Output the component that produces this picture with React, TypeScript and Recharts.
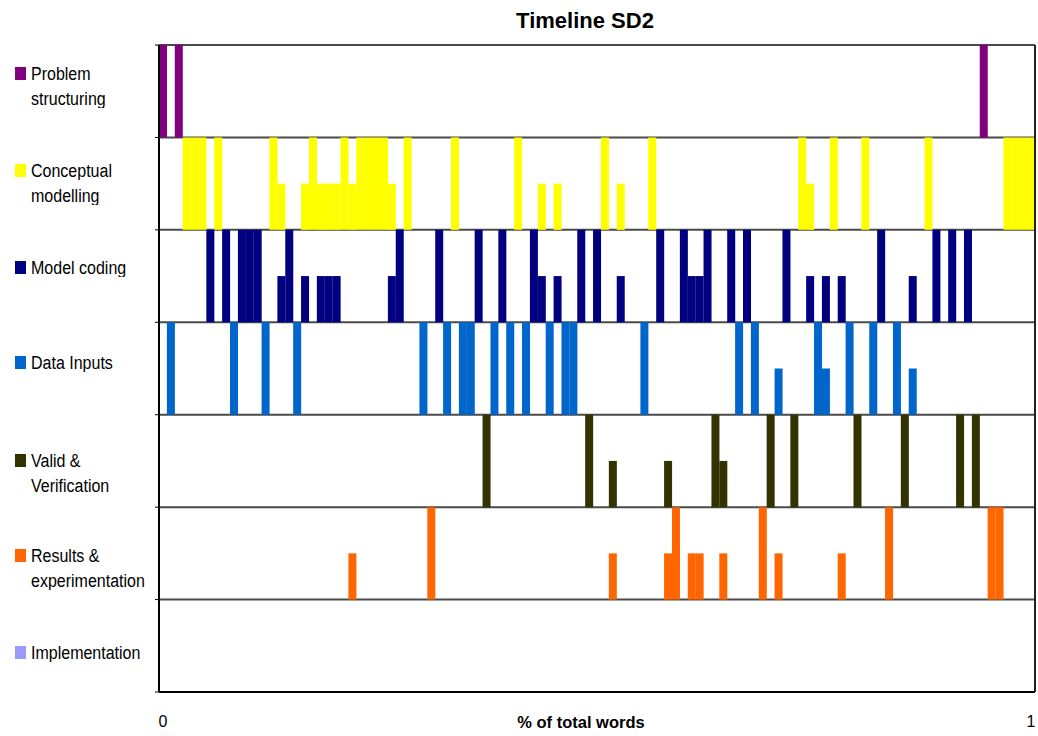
import React from 'react';
import { BarChart, Bar, XAxis, YAxis, CartesianGrid } from 'recharts';

// ---- data ----
const BIN_COUNT = 111; // time segments along "% of total words"

const categories = [
  'Problem structuring',
  'Conceptual modelling',
  'Model coding',
  'Data Inputs',
  'Valid & Verification',
  'Results & experimentation',
  'Implementation',
];
const legendLines = [
  ['Problem', 'structuring'],
  ['Conceptual', 'modelling'],
  ['Model coding'],
  ['Data Inputs'],
  ['Valid &', 'Verification'],
  ['Results &', 'experimentation'],
  ['Implementation'],
];
const colors = ['#800080', '#FFFF00', '#000080', '#0066CC', '#333300', '#FF6600', '#9999FF'];

// segment indices where an activity fills the whole segment (1) or shares it (0.5)
const problemFull = [0, 2, 104];
const problemHalf: number[] = [];
const conceptFull = [3, 4, 5, 7, 14, 19, 23, 25, 26, 27, 28, 31, 37, 45, 56, 62, 81, 85, 89, 97, 107, 108, 109, 110];
const conceptHalf = [15, 18, 20, 21, 22, 24, 29, 48, 50, 58, 82];
const modelFull = [6, 8, 10, 11, 12, 16, 30, 35, 40, 43, 47, 53, 55, 63, 66, 69, 72, 74, 79, 91, 98, 100, 102];
const modelHalf = [15, 18, 20, 21, 22, 29, 48, 50, 58, 67, 68, 82, 84, 86, 95];
const dataFull = [1, 9, 13, 17, 33, 36, 38, 39, 42, 44, 46, 49, 51, 52, 61, 73, 75, 83, 87, 90, 93];
const dataHalf = [78, 84, 95];
const validFull = [41, 54, 70, 77, 80, 88, 94, 101, 103];
const validHalf = [57, 64, 71];
const resultsFull = [34, 65, 76, 92, 105, 106];
const resultsHalf = [24, 57, 64, 67, 68, 71, 78, 86];
const implFull: number[] = [];
const implHalf: number[] = [];

// x ticks: first and last segment, labelled as share of total words
const xTickBins = [0, BIN_COUNT - 1];
const xTickLabels = ['0', '1'];
const rowTicks = [0, 1, 2, 3, 4, 5, 6, 7];

const fullLists = [problemFull, conceptFull, modelFull, dataFull, validFull, resultsFull, implFull];
const halfLists = [problemHalf, conceptHalf, modelHalf, dataHalf, validHalf, resultsHalf, implHalf];

const data = Array.from({ length: BIN_COUNT }, (_, bin) => {
  const row: Record<string, number> = { bin };
  categories.forEach((_, i) => {
    const v = fullLists[i].includes(bin) ? 1 : halfLists[i].includes(bin) ? 0.5 : 0;
    row['v' + i] = v;
    row['p' + i] = 1 - v;
  });
  return row;
});

// ---- layout ----
const legendCenters = [73, 170, 267, 362, 460, 555, 652];
const FONT = '"Liberation Sans", Arial, Helvetica, sans-serif';

export default function App() {
  const stackOrder = [6, 5, 4, 3, 2, 1, 0]; // bottom row first
  return (
    <div
      style={{
        position: 'absolute',
        left: 0,
        top: 0,
        width: 1038,
        height: 736,
        background: '#fff',
        fontFamily: FONT,
        color: '#000',
        overflow: 'hidden',
      }}
    >
      <BarChart
        width={1038}
        height={736}
        data={data}
        margin={{ top: 45, right: 0, bottom: 0, left: 151 }}
        barCategoryGap={0}
        barGap={0}
      >
        <CartesianGrid
          xAxisId="bins"
          yAxisId="rows"
          vertical={false}
          stroke="#4a4a4a"
          strokeWidth={2}
        />
        <XAxis
          xAxisId="bins"
          dataKey="bin"
          type="category"
          ticks={xTickBins}
          interval={0}
          height={44}
          axisLine={{ stroke: '#000', strokeWidth: 2 }}
          tickLine={false}
          tickMargin={18}
          tick={{ fill: '#000', fontSize: 16 }}
          tickFormatter={(v: number) => xTickLabels[xTickBins.indexOf(v)] ?? ''}
        />
        <YAxis
          yAxisId="rows"
          type="number"
          domain={[0, 7]}
          ticks={rowTicks}
          width={8}
          allowDataOverflow
          axisLine={{ stroke: '#000', strokeWidth: 2 }}
          tickLine={{ stroke: '#000' }}
          tickSize={4}
          tickFormatter={() => ''}
        />
        <YAxis
          yAxisId="right"
          orientation="right"
          type="number"
          domain={[0, 7]}
          ticks={rowTicks}
          width={3}
          allowDataOverflow
          axisLine={{ stroke: '#222', strokeWidth: 2 }}
          tickLine={false}
          tickFormatter={() => ''}
        />
        {stackOrder.flatMap((i) => [
          <Bar
            key={'v' + i}
            dataKey={'v' + i}
            name={categories[i]}
            xAxisId="bins"
            yAxisId="rows"
            stackId="s"
            fill={colors[i]}
            stroke="none"
            isAnimationActive={false}
          />,
          <Bar
            key={'p' + i}
            dataKey={'p' + i}
            xAxisId="bins"
            yAxisId="rows"
            stackId="s"
            fill="none"
            stroke="none"
            isAnimationActive={false}
          />,
        ])}
      </BarChart>

      {/* title */}
      <div
        style={{
          position: 'absolute',
          left: 385,
          width: 400,
          top: 7,
          textAlign: 'center',
          fontWeight: 'bold',
          fontSize: 22,
          lineHeight: '28px',
        }}
      >
        Timeline SD2
      </div>

      {/* x axis title */}
      <div
        style={{
          position: 'absolute',
          left: 431,
          width: 300,
          top: 711,
          textAlign: 'center',
          fontWeight: 'bold',
          fontSize: 16.5,
          lineHeight: '22px',
        }}
      >
        % of total words
      </div>

      {/* legend */}
      {categories.map((c, i) => (
        <div key={c} style={{ position: 'absolute', left: 0, top: legendCenters[i] - 12.5 }}>
          <div
            style={{
              position: 'absolute',
              left: 15,
              top: 6,
              width: 11,
              height: 13,
              background: colors[i],
            }}
          />
          <div style={{ position: 'absolute', left: 31, top: 0, whiteSpace: 'nowrap' }}>
            {legendLines[i].map((t) => (
              <div
                key={t}
                style={{
                  fontSize: 16,
                  lineHeight: '25px',
                  height: 25,
                  transform: 'scaleY(1.1)',
                  transformOrigin: 'left center',
                }}
              >
                {t}
              </div>
            ))}
          </div>
        </div>
      ))}
    </div>
  );
}
